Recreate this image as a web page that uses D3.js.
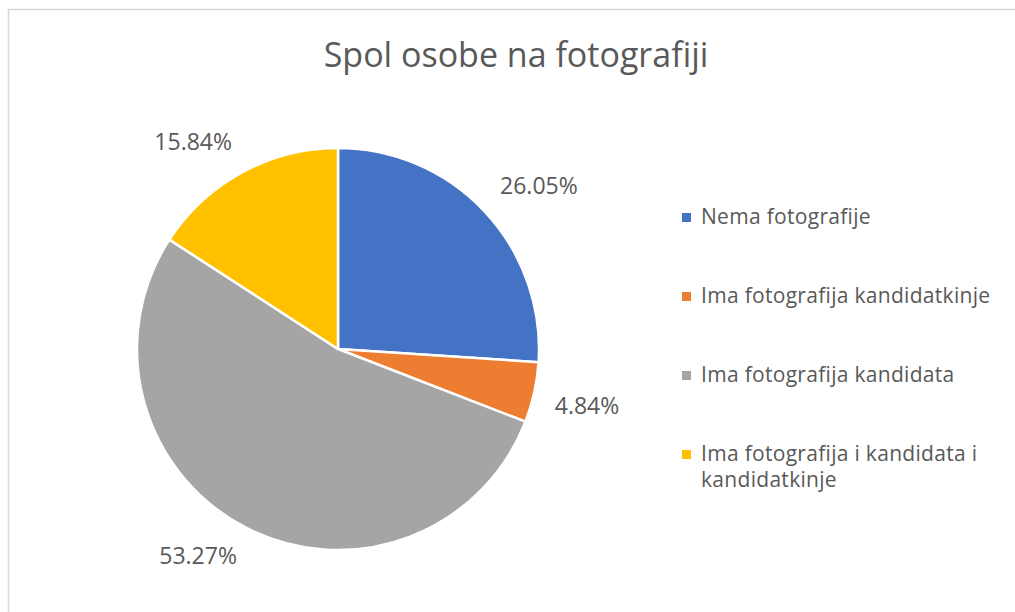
<!DOCTYPE html>
<html>
<head>
<meta charset="utf-8">
<script src="https://cdn.jsdelivr.net/npm/d3@7"></script>
<style>
  body { margin: 0; background: #fff; }
  text { font-family: "Open Sans", sans-serif; fill: #595959; }
</style>
</head>
<body>
<div id="graph1"></div>
<script>
// slice data, clockwise from 12 o'clock
let categories = ["Nema fotografije", "Ima fotografija kandidatkinje", "Ima fotografija kandidata", "Ima fotografija i kandidata i kandidatkinje"];
let values = [26.05, 4.84, 53.27, 15.84];
let labels = ["26.05%", "4.84%", "53.27%", "15.84%"];
let colors = ["#4472C4", "#ED7D31", "#A5A5A5", "#FFC000"];

let width = 1015,
    height = 612;

const cx = 338, cy = 349, radius = 201;

let svg1 = d3.select('#graph1')
    .append("svg")
    .attr("width", width)
    .attr("height", height);

// chart area border (only left/top visible in frame)
svg1.append("rect")
    .attr("x", 8.5)
    .attr("y", 9.5)
    .attr("width", 1030)
    .attr("height", 620)
    .attr("fill", "none")
    .attr("stroke", "#d9d9d9")
    .attr("stroke-width", 1.5);

svg1.append("text")
    .attr("x", 516)
    .attr("y", 67)
    .style("text-anchor", "middle")
    .style("font-size", "34px")
    .text("Spol osobe na fotografiji");

let pie = d3.pie().sort(null).value(d => d);
let arcs = pie(values);

let arc = d3.arc().innerRadius(0).outerRadius(radius);
let labelArc = d3.arc().innerRadius(222).outerRadius(222);

let g = svg1.append("g")
    .attr("transform", "translate(" + cx + "," + cy + ")");

g.selectAll("path")
    .data(arcs)
    .enter()
    .append("path")
    .attr("d", arc)
    .attr("fill", (d, i) => colors[i])
    .attr("stroke", "#fff")
    .attr("stroke-width", 2.5)
    .attr("stroke-linejoin", "round");

// labels anchored by their corner to a point just outside the slice
g.selectAll("text.pct")
    .data(arcs)
    .enter()
    .append("text")
    .attr("class", "pct")
    .attr("transform", d => "translate(" + labelArc.centroid(d) + ")")
    .attr("dy", d => {
        let a = (d.startAngle + d.endAngle) / 2;
        return Math.cos(a) > 0 ? "-0.15em" : "0.75em";
    })
    .style("text-anchor", d => {
        let a = (d.startAngle + d.endAngle) / 2;
        return Math.sin(a) > 0 ? "start" : "end";
    })
    .style("font-size", "23px")
    .text((d, i) => labels[i]);

// legend
let legend = svg1.append("g")
    .attr("transform", "translate(682, 217)");

let rows = legend.selectAll("g")
    .data(categories)
    .enter()
    .append("g")
    .attr("transform", (d, i) => "translate(0," + (i * 79) + ")");

rows.append("rect")
    .attr("x", 0)
    .attr("y", -4)
    .attr("width", 9)
    .attr("height", 9)
    .attr("fill", (d, i) => colors[i]);

rows.append("text")
    .attr("x", 19)
    .attr("y", 0)
    .attr("dy", "0.35em")
    .style("font-size", "21px")
    .style("letter-spacing", "0.3px")
    .each(function(d) {
        let t = d3.select(this);
        let words = d.split(" ");
        let line = [];
        let tspan = t.append("tspan").attr("x", 19);
        for (let k = 0; k < words.length; k++) {
            line.push(words[k]);
            tspan.text(line.join(" "));
            if (tspan.node().getComputedTextLength() > 305 && line.length > 1) {
                line.pop();
                tspan.text(line.join(" "));
                line = [words[k]];
                tspan = t.append("tspan").attr("x", 19).attr("dy", "26px").text(words[k]);
            }
        }
    });
</script>
</body>
</html>
